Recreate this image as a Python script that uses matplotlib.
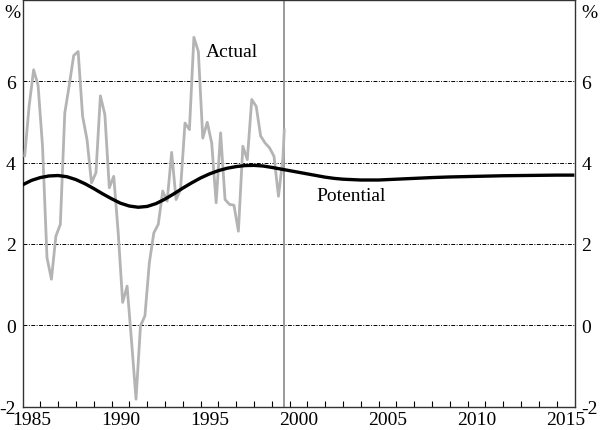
import matplotlib
matplotlib.use("Agg")
import matplotlib.pyplot as plt
import numpy as np

# ── Data ──────────────────────────────────────────────────────────────────────
# Actual growth, quarterly, 1985 to mid-1999 (%)
actual = [4.17, 5.4, 6.28, 5.9, 4.4, 1.66, 1.13, 2.19, 2.48, 5.22,
          5.9, 6.63, 6.73, 5.14, 4.56, 3.5, 3.75, 5.64, 5.18, 3.38,
          3.66, 2.27, 0.56, 0.96, -0.4, -1.82, -0.02, 0.23, 1.54, 2.27,
          2.48, 3.3, 3.05, 4.25, 3.09, 3.34, 4.97, 4.81, 7.08, 6.73,
          4.6, 4.99, 4.48, 3.01, 4.73, 3.09, 2.97, 2.95, 2.31, 4.4,
          4.07, 5.55, 5.38, 4.65, 4.48, 4.36, 4.15, 3.17, 4.11, 4.8]
actual_years = list(1985.125 + 0.25 * np.arange(len(actual) - 1)) + [1999.7]

# Potential growth (%)
pot_years = [1985.0, 1985.5, 1986, 1986.5, 1987, 1987.5, 1988, 1988.5,
             1989, 1989.5, 1990, 1990.5, 1991, 1991.5, 1992, 1992.5,
             1993, 1993.5, 1994, 1994.5, 1995, 1995.5, 1996, 1996.5,
             1997, 1997.5, 1998, 1998.5, 1999, 1999.5, 2000, 2000.5,
             2001, 2001.5, 2002, 2002.5, 2003, 2003.5, 2004, 2005,
             2006, 2007, 2008, 2009, 2010, 2011, 2012, 2013,
             2014, 2015, 2015.9]
potential = [3.45, 3.56, 3.63, 3.67, 3.68, 3.65, 3.58, 3.48,
             3.36, 3.23, 3.11, 3.00, 2.93, 2.90, 2.92, 2.99,
             3.10, 3.23, 3.37, 3.50, 3.62, 3.72, 3.80, 3.86,
             3.90, 3.925, 3.93, 3.915, 3.88, 3.84, 3.80, 3.76,
             3.72, 3.68, 3.64, 3.61, 3.59, 3.58, 3.57, 3.57,
             3.59, 3.61, 3.63, 3.645, 3.655, 3.665, 3.675, 3.68,
             3.685, 3.69, 3.69]

forecast_start = 1999.7
yticks = [-2, 0, 2, 4, 6]
year_labels = [1985, 1990, 1995, 2000, 2005, 2010, 2015]

plt.rcParams["font.family"] = ["Liberation Serif", "DejaVu Serif"]
FS = 14
GRID_LS = (0, (4, 1.5, 1, 1.5))

fig = plt.figure(figsize=(6.0, 4.31), dpi=100)
ax = fig.add_axes([0.0375, 0.0545, 0.92, 0.9435])

for y in yticks:
    ax.axhline(y, color="black", linewidth=0.7, linestyle=GRID_LS, zorder=1)

ax.axvline(forecast_start, color="#9a9a9a", linewidth=1.4, zorder=2)
ax.plot(actual_years, actual, color="#b4b4b4", linewidth=2.0, zorder=3)
ax.plot(pot_years, potential, color="black", linewidth=2.4, zorder=4)

ax.text(1995.3, 6.72, "Actual", fontsize=FS, va="center", ha="left")
ax.text(2001.5, 3.19, "Potential", fontsize=FS, va="center", ha="left")

ax.set_xlim(1985.0, 2016.0)
ax.set_ylim(-2, 8)

# year labels centred in each year, ticks at year boundaries
ax.set_xticks([y + 0.5 for y in year_labels])
ax.set_xticklabels([str(y) for y in year_labels], fontsize=FS)
ax.set_xticks(np.arange(1986, 2016), minor=True)
ax.tick_params(axis="x", which="major", length=0, pad=3)
ax.tick_params(axis="x", which="minor", direction="in", length=4, width=0.8)

ax.set_yticks(yticks)
ax.set_yticklabels([str(v) for v in yticks], fontsize=FS)
ax.tick_params(axis="y", which="both", length=0, pad=5,
               left=True, right=True, labelleft=True, labelright=True)

for s in ax.spines.values():
    s.set_linewidth(1.0)
    s.set_color("#333333")

fig.text(12 / 600, 1 - 13 / 431, "%", fontsize=FS, ha="center", va="center")
fig.text(589 / 600, 1 - 13 / 431, "%", fontsize=FS, ha="center", va="center")

fig.savefig("out.png", dpi=100)
